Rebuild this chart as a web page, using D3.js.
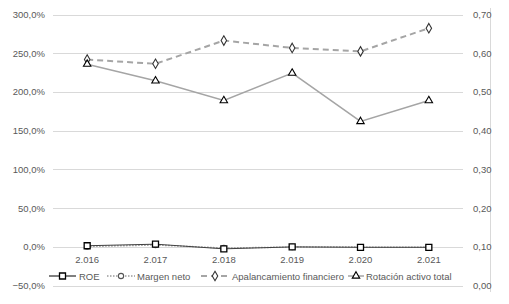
<!DOCTYPE html>
<html>
<head>
<meta charset="utf-8">
<script src="https://cdn.jsdelivr.net/npm/d3@7"></script>
<style>
  body { margin: 0; background: #fff; }
  text { font-family: "Liberation Sans", Arial, sans-serif; fill: #595959; }
</style>
</head>
<body>
<div id="chart"></div>
<script>
// data
const years = ["2.016", "2.017", "2.018", "2.019", "2.020", "2.021"];
const roe = [0.02, 0.04, -0.02, 0.005, 0.0, 0.0];
const margenNeto = [0.01, 0.03, -0.01, 0.003, 0.002, 0.002];
const apalancamiento = [2.425, 2.37, 2.67, 2.575, 2.53, 2.83];
const rotacion = [0.573, 0.530, 0.479, 0.550, 0.425, 0.479];
const leftTicks = [-0.5, 0, 0.5, 1, 1.5, 2, 2.5, 3];
const rightTicks = [0, 0.1, 0.2, 0.3, 0.4, 0.5, 0.6, 0.7];

const width = 509, height = 304;
const plot = {left: 53, right: 463, top: 15, bottom: 286};

const svg = d3.select("#chart").append("svg")
  .attr("width", width)
  .attr("height", height);

const x = d3.scaleBand().domain(years).range([plot.left, plot.right]);
const yL = d3.scaleLinear().domain([-0.5, 3]).range([plot.bottom, plot.top]);
const yR = d3.scaleLinear().domain([0, 0.7]).range([plot.bottom, plot.top]);
const cx = d => x(d) + x.bandwidth() / 2;

const pctFmt = v => d3.format(".1f")(v * 100).replace(".", ",") + "%";
const numFmt = v => d3.format(".2f")(v).replace(".", ",");

// gridlines
svg.append("g").selectAll("line")
  .data(leftTicks)
  .join("line")
    .attr("x1", plot.left).attr("x2", plot.right)
    .attr("y1", d => yL(d)).attr("y2", d => yL(d))
    .attr("stroke", "#d9d9d9").attr("stroke-width", 1)
    .attr("shape-rendering", "crispEdges");

// right border
svg.append("line")
  .attr("x1", 490).attr("x2", 490).attr("y1", 8).attr("y2", 292)
  .attr("stroke", "#d9d9d9").attr("shape-rendering", "crispEdges");

// left axis labels
svg.append("g").selectAll("text")
  .data(leftTicks)
  .join("text")
    .attr("x", 45).attr("y", d => yL(d) + 3)
    .attr("text-anchor", "end")
    .style("font-size", "9.5px")
    .text(pctFmt);

// right axis labels
svg.append("g").selectAll("text")
  .data(rightTicks)
  .join("text")
    .attr("x", 473).attr("y", d => yR(d) + 3)
    .style("font-size", "9.5px")
    .text(numFmt);

// category labels
svg.append("g").selectAll("text")
  .data(years)
  .join("text")
    .attr("x", cx).attr("y", 263)
    .attr("text-anchor", "middle")
    .style("font-size", "9.5px")
    .text(d => d);

const line = (scale) => d3.line().x((d, i) => cx(years[i])).y(d => scale(d));

// series
const series = [
  {name: "Apalancamiento financiero", values: apalancamiento, scale: yL, stroke: "#a5a5a5", sw: 2, dash: "6,4", marker: "diamond"},
  {name: "Rotación activo total", values: rotacion, scale: yR, stroke: "#a5a5a5", sw: 1.5, dash: null, marker: "triangle"},
  {name: "Margen neto", values: margenNeto, scale: yL, stroke: "#9a9a9a", sw: 1.5, dash: "1.5,1.5", marker: "circle"},
  {name: "ROE", values: roe, scale: yL, stroke: "#404040", sw: 1, dash: null, marker: "square"}
];

const symbolPath = {
  square: d3.symbol().type(d3.symbolSquare).size(36)(),
  circle: d3.symbol().type(d3.symbolCircle).size(22)(),
  diamond: d3.symbol().type(d3.symbolDiamond).size(26)(),
  triangle: d3.symbol().type(d3.symbolTriangle).size(24)()
};
const markerStroke = {square: "#000", circle: "#555", diamond: "#333", triangle: "#000"};

function drawMarker(g, kind, px, py) {
  g.append("path")
    .attr("d", symbolPath[kind])
    .attr("transform", `translate(${px},${py})`)
    .attr("fill", "#fff")
    .attr("stroke", markerStroke[kind])
    .attr("stroke-width", kind === "square" ? 1.3 : 1.1);
}

series.forEach(s => {
  svg.append("path")
    .datum(s.values)
    .attr("d", line(s.scale))
    .attr("fill", "none")
    .attr("stroke", s.stroke)
    .attr("stroke-width", s.sw)
    .attr("stroke-dasharray", s.dash);
});
series.forEach(s => {
  const g = svg.append("g");
  s.values.forEach((v, i) => drawMarker(g, s.marker, cx(years[i]), s.scale(v)));
});

// legend
const legendY = 276;
const legend = [
  {label: "ROE", x1: 49, x2: 76, tx: 79, stroke: "#000", sw: 1, dash: null, marker: "square"},
  {label: "Margen neto", x1: 107, x2: 135, tx: 137, stroke: "#9a9a9a", sw: 1.5, dash: "1.5,1.5", marker: "circle"},
  {label: "Apalancamiento financiero", x1: 201, x2: 229, tx: 232, stroke: "#a5a5a5", sw: 2, dash: "6,4", marker: "diamond"},
  {label: "Rotación activo total", x1: 348, x2: 364, tx: 366, stroke: "#a5a5a5", sw: 1.5, dash: null, marker: "triangle"}
];
legend.forEach(l => {
  const g = svg.append("g");
  g.append("line")
    .attr("x1", l.x1).attr("x2", l.x2).attr("y1", legendY).attr("y2", legendY)
    .attr("stroke", l.stroke).attr("stroke-width", l.sw)
    .attr("stroke-dasharray", l.dash);
  drawMarker(g, l.marker, (l.x1 + l.x2) / 2, legendY);
  g.append("text")
    .attr("x", l.tx).attr("y", legendY + 3.5)
    .style("font-size", "9.5px")
    .text(l.label);
});
</script>
</body>
</html>
